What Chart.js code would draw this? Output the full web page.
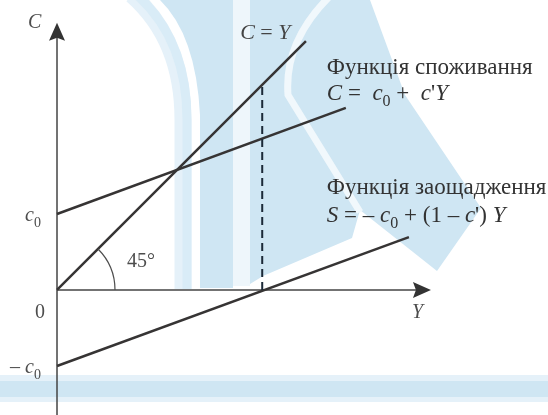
<!DOCTYPE html>
<html>
<head>
<meta charset="utf-8">
<script src="https://cdn.jsdelivr.net/npm/chart.js@4/dist/chart.umd.min.js"></script>
<style>
    html, body { margin: 0; padding: 0; background: #fff; }
    canvas { display: block; }
</style>
</head>
<body>
<canvas id="keynes-chart" width="548" height="415"></canvas>
<script>
// axis extents (income Y along x, spending C / saving S along y)
const incomeAxisEnd = 9.84;
const spendAxisTop = 7.03;
const spendAxisBottom = -3.4;

// autonomous consumption
const c0 = 2.0;

// C = Y, the 45 degree line
const diagY = [0, 6.55];
const diagC = [0, 6.55];

// consumption function C = c0 + c'Y
const consY = [0, 7.6];
const consC = [2.0, 4.79];

// saving function S = -c0 + (1 - c')Y
const saveY = [0, 9.26];
const saveS = [-2.0, 1.39];

// income where saving is zero, and the 45 degree line above it
const breakY = [5.4, 5.4];
const breakC = [0, 5.45];

const SERIF = '"Liberation Serif", "DejaVu Serif", serif';
const INK = '#363434';
const GREY = '#4d4d4d';

function toPoints(xs, ys) {
    return xs.map((x, i) => ({ x: x, y: ys[i] }));
}

function lineSet(points, color, width, dash) {
    return {
        data: points,
        showLine: true,
        pointRadius: 0,
        borderColor: color,
        borderWidth: width,
        borderDash: dash || [],
        fill: false,
        clip: false,
        tension: 0
    };
}

// light blue emblem printed behind the figure
const watermark = {
    id: 'watermark',
    beforeDraw(chart) {
        const ctx = chart.ctx;
        const blue = '#cfe6f3';
        const pale = '#e5f1f9';
        ctx.save();
        ctx.fillStyle = '#fff';
        ctx.fillRect(0, 0, chart.width, chart.height);

        // horizontal band near the bottom
        ctx.fillStyle = pale;
        ctx.fillRect(0, 375, chart.width, 27);
        ctx.fillStyle = blue;
        ctx.fillRect(0, 381, chart.width, 16);

        // outer left arc
        ctx.strokeStyle = pale;
        ctx.lineWidth = 17;
        ctx.beginPath();
        ctx.moveTo(132, -5);
        ctx.quadraticCurveTo(183, 40, 183, 120);
        ctx.lineTo(183, 289);
        ctx.stroke();
        ctx.strokeStyle = '#d9ecf7';
        ctx.lineWidth = 9;
        ctx.beginPath();
        ctx.moveTo(137, -5);
        ctx.quadraticCurveTo(187, 40, 187, 120);
        ctx.lineTo(187, 289);
        ctx.stroke();

        // pale gap between stem and right block
        ctx.fillStyle = '#eef6fb';
        ctx.fillRect(233, 0, 17, 286);

        ctx.fillStyle = blue;
        // central stem
        ctx.beginPath();
        ctx.moveTo(160, 0);
        ctx.lineTo(233, 0);
        ctx.lineTo(233, 288);
        ctx.lineTo(200, 288);
        ctx.lineTo(200, 115);
        ctx.quadraticCurveTo(196, 35, 160, 0);
        ctx.closePath();
        ctx.fill();

        // right block with its prong
        ctx.beginPath();
        ctx.moveTo(250, 0);
        ctx.lineTo(370, 0);
        ctx.lineTo(405, 95);
        ctx.lineTo(481, 208);
        ctx.lineTo(437, 271);
        ctx.lineTo(360, 210);
        ctx.lineTo(352, 238);
        ctx.lineTo(263, 276);
        ctx.lineTo(250, 284);
        ctx.closePath();
        ctx.fill();

        // thin light seam splitting the prong from the block
        ctx.strokeStyle = '#f1f8fc';
        ctx.lineWidth = 7;
        ctx.beginPath();
        ctx.moveTo(329, -3);
        ctx.quadraticCurveTo(284, 42, 288, 95);
        ctx.lineTo(360, 212);
        ctx.stroke();
        ctx.restore();
    }
};

// draws a row of text pieces: italic letters, roman signs, subscripts
function drawRuns(ctx, x, y, runs, color, size) {
    size = size || 20;
    ctx.fillStyle = color;
    ctx.textBaseline = 'alphabetic';
    ctx.textAlign = 'left';
    runs.forEach(r => {
        const s = r.sub ? Math.round(size * 0.7) : size;
        ctx.font = (r.i ? 'italic ' : '') + s + 'px ' + SERIF;
        ctx.fillText(r.t, x, y + (r.sub ? 6 : 0));
        x += ctx.measureText(r.t).width;
    });
}

const decorations = {
    id: 'decorations',
    afterDatasetsDraw(chart) {
        const ctx = chart.ctx;
        const xs = chart.scales.x;
        const ys = chart.scales.y;
        const px = v => xs.getPixelForValue(v);
        const py = v => ys.getPixelForValue(v);
        const ox = px(0);
        const oy = py(0);

        ctx.save();
        // arrow heads
        ctx.fillStyle = '#333';
        const topY = py(spendAxisTop);
        ctx.beginPath();
        ctx.moveTo(ox, topY);
        ctx.lineTo(ox - 8, topY + 18);
        ctx.lineTo(ox, topY + 15);
        ctx.lineTo(ox + 8, topY + 18);
        ctx.closePath();
        ctx.fill();

        const endX = px(incomeAxisEnd);
        ctx.beginPath();
        ctx.moveTo(endX, oy);
        ctx.lineTo(endX - 18, oy - 8);
        ctx.lineTo(endX - 15, oy);
        ctx.lineTo(endX - 18, oy + 8);
        ctx.closePath();
        ctx.fill();

        // 45 degree angle mark
        ctx.strokeStyle = GREY;
        ctx.lineWidth = 1.2;
        ctx.beginPath();
        ctx.arc(ox, oy, 58, -Math.PI / 4, 0);
        ctx.stroke();

        // axis names and intercepts
        drawRuns(ctx, ox - 29, topY + 5, [{ t: 'C', i: 1 }], GREY);
        drawRuns(ctx, endX - 19, oy + 28, [{ t: 'Y', i: 1 }], GREY);
        drawRuns(ctx, ox - 22, oy + 28, [{ t: '0' }], GREY);
        drawRuns(ctx, ox - 32, py(c0) + 7, [{ t: 'c', i: 1 }, { t: '0', sub: 1 }], GREY);
        drawRuns(ctx, ox - 47, py(-c0) + 7, [{ t: '– ' }, { t: 'c', i: 1 }, { t: '0', sub: 1 }], GREY);
        drawRuns(ctx, ox + 70, oy - 23, [{ t: '45°' }], GREY);

        // line names
        drawRuns(ctx, px(4.82), py(6.6), [{ t: 'C', i: 1 }, { t: ' = ' }, { t: 'Y', i: 1 }], '#444', 22);
        drawRuns(ctx, px(7.1), py(5.68), [{ t: 'Функція споживання' }], '#333', 23);
        drawRuns(ctx, px(7.1), py(5.0), [
            { t: 'C', i: 1 }, { t: ' =  ' }, { t: 'c', i: 1 }, { t: '0', sub: 1 },
            { t: ' +  ' }, { t: 'c', i: 1 }, { t: "'" }, { t: 'Y', i: 1 }
        ], '#333', 23);
        drawRuns(ctx, px(7.1), py(2.53), [{ t: 'Функція заощадження' }], '#333', 23);
        drawRuns(ctx, px(7.1), py(1.79), [
            { t: 'S', i: 1 }, { t: ' = – ' }, { t: 'c', i: 1 }, { t: '0', sub: 1 },
            { t: ' + (1 – ' }, { t: 'c', i: 1 }, { t: "') " }, { t: 'Y', i: 1 }
        ], '#333', 23);
        ctx.restore();
    }
};

const ctx = document.getElementById('keynes-chart').getContext('2d');

const keynesChart = new Chart(ctx, {
    type: 'scatter',
    data: {
        datasets: [
            lineSet(toPoints(breakY, breakC), '#1b2a38', 2, [8, 5]),
            lineSet(toPoints(diagY, diagC), INK, 2.5),
            lineSet(toPoints(consY, consC), INK, 2.5),
            lineSet(toPoints(saveY, saveS), INK, 2.5),
            lineSet(toPoints([0, incomeAxisEnd - 0.3], [0, 0]), '#444', 1.5),
            lineSet(toPoints([0, 0], [spendAxisBottom, spendAxisTop - 0.3]), '#444', 1.5)
        ]
    },
    options: {
        responsive: false,
        animation: false,
        layout: { padding: 0 },
        plugins: {
            legend: { display: false },
            tooltip: { enabled: false }
        },
        scales: {
            x: { type: 'linear', display: false, min: -1.5, max: 12.92 },
            y: { type: 'linear', display: false, min: -3.29, max: 7.63 }
        }
    },
    plugins: [watermark, decorations]
});
</script>
</body>
</html>
